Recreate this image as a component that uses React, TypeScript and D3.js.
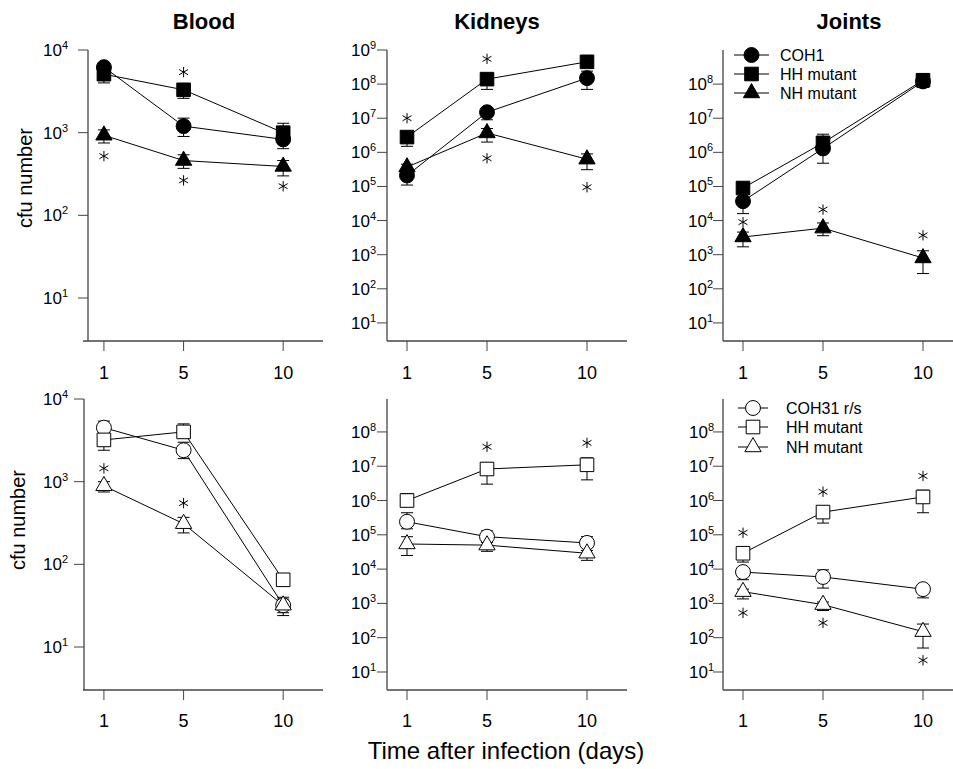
import React from "react";
import * as d3 from "d3";

// x values and legend names
const days = [1, 5, 10];
const topStrains = ["COH1", "HH mutant", "NH mutant"];
const bottomStrains = ["COH31 r/s", "HH mutant", "NH mutant"];

// each row: one strain (circle, square, triangle); mean and error bar ends per day
const bloodTop = [
  { mean: [6200, 1200, 830], lo: [5300, 900, 640], hi: [7000, 1500, 1100] },
  { mean: [5100, 3300, 1000], lo: [4000, 2600, 800], hi: [6000, 3900, 1300] },
  { mean: [930, 460, 390], lo: [750, 370, 300], hi: [1080, 540, 460] },
];
const kidneysTop = [
  { mean: [2.1e5, 1.5e7, 1.5e8], lo: [1.1e5, 9e6, 7e7], hi: [2.8e5, 2e7, 2.4e8] },
  { mean: [2.8e6, 1.4e8, 4.5e8], lo: [1.5e6, 7e7, 3.5e8], hi: [3.5e6, 1.8e8, 6.9e8] },
  { mean: [3.7e5, 3.7e6, 6.3e5], lo: [2.8e5, 2e6, 3.1e5], hi: [4.5e5, 5e6, 9e5] },
];
const jointsTop = [
  { mean: [3.7e4, 1.3e6, 1.2e8], lo: [1.6e4, 4.8e5, 8e7], hi: [5e4, 1.8e6, 1.5e8] },
  { mean: [9e4, 1.9e6, 1.3e8], lo: [7e4, 1.4e6, 1e8], hi: [1.1e5, 3.4e6, 1.6e8] },
  { mean: [3.3e3, 6e3, 800], lo: [1.7e3, 3.6e3, 280], hi: [4.6e3, 8.5e3, 1.3e3] },
];
const bloodBottom = [
  { mean: [4500, 2400, 32], lo: [3900, 1900, 24], hi: [5400, 3000, 40] },
  { mean: [3200, 4000, 65], lo: [2400, 3400, 57], hi: [3700, 5000, 72] },
  { mean: [890, 310, 32], lo: [750, 240, 26], hi: [1000, 370, 38] },
];
const kidneysBottom = [
  { mean: [2.4e5, 8.8e4, 5.8e4], lo: [1.5e5, 6.5e4, 4.5e4], hi: [4.4e5, 1.3e5, 8.8e4] },
  { mean: [1e6, 8.3e6, 1.1e7], lo: [8e5, 3e6, 4e6], hi: [1.6e6, 1.25e7, 1.75e7] },
  { mean: [5.4e4, 5e4, 2.9e4], lo: [2.5e4, 3.3e4, 1.8e4], hi: [8.8e4, 6e4, 3.5e4] },
];
const jointsBottom = [
  { mean: [8.2e3, 5.9e3, 2.6e3], lo: [4.9e3, 2.8e3, 1.45e3], hi: [1e4, 9.5e3, 3e3] },
  { mean: [2.9e4, 4.6e5, 1.27e6], lo: [1.6e4, 2.2e5, 4.4e5], hi: [3.5e4, 6.5e5, 2e6] },
  { mean: [2.2e3, 920, 150], lo: [1.35e3, 620, 50], hi: [2.6e3, 1.1e3, 250] },
];

// significance asterisks: [day, value]
const bloodTopStars = [[5, 5400], [1, 520], [5, 265], [10, 225]];
const kidneysTopStars = [[1, 1e7], [5, 5.5e8], [5, 6.7e5], [10, 9.5e4]];
const jointsTopStars = [[1, 9e3], [5, 2.1e4], [10, 3.7e3]];
const bloodBottomStars = [[1, 1450], [5, 550]];
const kidneysBottomStars = [[5, 3.7e7], [10, 4.8e7]];
const jointsBottomStars = [[1, 1.15e5], [5, 1.8e6], [10, 5.2e6], [1, 530], [5, 270], [10, 22]];

const FONT = "'Liberation Sans', Arial, Helvetica, sans-serif";
const symbolTypes = [d3.symbolCircle, d3.symbolSquare, d3.symbolTriangle];
const symbolSizes = [175, 185, 115];

type Row = { mean: number[]; lo: number[]; hi: number[] };

const Marker = ({ i, x, y, filled }: { i: number; x: number; y: number; filled: boolean }) => (
  <path
    d={d3.symbol(symbolTypes[i], symbolSizes[i])() as string}
    transform={`translate(${x},${y})`}
    fill={filled ? "#000" : "#fff"}
    stroke="#000"
    strokeWidth={1}
  />
);

const Panel = (p: {
  rows: Row[];
  stars: number[][];
  filled: boolean;
  xDomain: [number, number];
  xRange: [number, number];
  axisStart: number;
  yDomain: [number, number];
  yRange: [number, number];
  ticks: number[];
  labelEnd: number;
  tickLabelY: number;
}) => {
  const x = d3.scaleLinear().domain(p.xDomain).range(p.xRange);
  const y = d3.scaleLog().domain(p.yDomain).range(p.yRange);
  const x0 = p.xRange[0];
  const yb = p.yRange[0];
  const line = d3
    .line<number>()
    .x((_, i) => x(days[i]))
    .y((d) => y(d));
  const star = d3.symbol(d3.symbolAsterisk, 75)() as string;
  return (
    <g fontFamily={FONT}>
      {/* axes */}
      <line x1={x0} x2={x0} y1={p.yRange[1]} y2={yb} stroke="#444" strokeWidth={1.3} />
      <line x1={p.axisStart} x2={p.xRange[1]} y1={yb} y2={yb} stroke="#444" strokeWidth={1.3} />
      {p.ticks.map((k) => (
        <g key={k}>
          <line x1={x0 - 10} x2={x0} y1={y(10 ** k)} y2={y(10 ** k)} stroke="#444" strokeWidth={1} />
          <text x={p.labelEnd} y={y(10 ** k) + 6} textAnchor="end" fontSize={17}>
            10
            <tspan dy={-7} fontSize={11}>
              {k}
            </tspan>
          </text>
        </g>
      ))}
      {days.map((d) => (
        <g key={d}>
          <line x1={x(d)} x2={x(d)} y1={yb} y2={yb + 10} stroke="#444" strokeWidth={1} />
          <text x={x(d)} y={p.tickLabelY} textAnchor="middle" fontSize={18}>
            {d}
          </text>
        </g>
      ))}
      {/* error bars */}
      {p.rows.map((r, si) =>
        days.map((d, i) => (
          <g key={`e${si}-${i}`} stroke="#000" strokeWidth={1}>
            <line x1={x(d)} x2={x(d)} y1={y(r.lo[i])} y2={y(r.hi[i])} />
            <line x1={x(d) - 6} x2={x(d) + 6} y1={y(r.lo[i])} y2={y(r.lo[i])} />
            <line x1={x(d) - 6} x2={x(d) + 6} y1={y(r.hi[i])} y2={y(r.hi[i])} />
          </g>
        ))
      )}
      {/* connecting lines */}
      {p.rows.map((r, si) => (
        <path key={`l${si}`} d={line(r.mean) as string} fill="none" stroke="#000" strokeWidth={1} />
      ))}
      {p.rows.map((r, si) =>
        r.mean.map((v, i) => <Marker key={`m${si}-${i}`} i={si} x={x(days[i])} y={y(v)} filled={p.filled} />)
      )}
      {p.stars.map(([d, v], i) => (
        <path key={`s${i}`} d={star} transform={`translate(${x(d)},${y(v)})`} stroke="#000" strokeWidth={1} fill="none" />
      ))}
    </g>
  );
};

const Legend = ({ names, filled, x0, x1, tx, ys }: { names: string[]; filled: boolean; x0: number; x1: number; tx: number; ys: number[] }) => (
  <g fontFamily={FONT}>
    {names.map((n, i) => (
      <g key={n}>
        <line x1={x0} x2={x1} y1={ys[i]} y2={ys[i]} stroke="#000" strokeWidth={1} />
        <Marker i={i} x={(x0 + x1) / 2} y={ys[i]} filled={filled} />
        <text x={tx} y={ys[i] + 6} fontSize={16}>
          {n}
        </text>
      </g>
    ))}
  </g>
);

const App = () => {
  const lowB = 10 ** 0.48;
  const lowK = 10 ** 0.47;
  return (
    <div style={{ position: "absolute", left: 0, top: 0 }}>
      <svg width={953} height={769} style={{ display: "block", background: "#fff" }}>
        {/* titles */}
        <g fontFamily={FONT} fontWeight="bold" fontSize={22} textAnchor="middle">
          <text x={204} y={29}>Blood</text>
          <text x={497} y={29}>Kidneys</text>
          <text x={849} y={29}>Joints</text>
        </g>
        <g fontFamily={FONT} fontSize={20} textAnchor="middle">
          <text transform="translate(32,178) rotate(-90)">cfu number</text>
          <text transform="translate(25,520) rotate(-90)">cfu number</text>
        </g>
        <text x={506} y={759} fontFamily={FONT} fontSize={24} textAnchor="middle">
          Time after infection (days)
        </text>

        <Panel rows={bloodTop} stars={bloodTopStars} filled xDomain={[0.2, 12]} xRange={[88, 323]} axisStart={83}
          yDomain={[lowB, 1e4]} yRange={[341, 50]} ticks={[1, 2, 3, 4]} labelEnd={68} tickLabelY={379} />
        <Panel rows={kidneysTop} stars={kidneysTopStars} filled xDomain={[0, 12]} xRange={[387, 627]} axisStart={387}
          yDomain={[lowK, 1e9]} yRange={[341, 50]} ticks={[1, 2, 3, 4, 5, 6, 7, 8, 9]} labelEnd={376} tickLabelY={379} />
        <Panel rows={jointsTop} stars={jointsTopStars} filled xDomain={[0, 12]} xRange={[723, 963]} axisStart={723}
          yDomain={[lowK, 1e9]} yRange={[341, 50]} ticks={[1, 2, 3, 4, 5, 6, 7, 8]} labelEnd={713} tickLabelY={379} />
        <Panel rows={bloodBottom} stars={bloodBottomStars} filled={false} xDomain={[0, 12]} xRange={[84, 323]} axisStart={83}
          yDomain={[lowB, 1e4]} yRange={[690, 399]} ticks={[1, 2, 3, 4]} labelEnd={68} tickLabelY={727} />
        <Panel rows={kidneysBottom} stars={kidneysBottomStars} filled={false} xDomain={[0, 12]} xRange={[387, 627]} axisStart={387}
          yDomain={[10 ** 0.475, 10 ** 8.96]} yRange={[690, 399]} ticks={[1, 2, 3, 4, 5, 6, 7, 8]} labelEnd={376} tickLabelY={727} />
        <Panel rows={jointsBottom} stars={jointsBottomStars} filled={false} xDomain={[0, 12]} xRange={[723, 963]} axisStart={723}
          yDomain={[10 ** 0.475, 10 ** 8.96]} yRange={[690, 399]} ticks={[1, 2, 3, 4, 5, 6, 7, 8]} labelEnd={714} tickLabelY={727} />

        <Legend names={topStrains} filled x0={734} x1={769} tx={780} ys={[55, 74, 93]} />
        <Legend names={bottomStrains} filled={false} x0={738} x1={768} tx={786} ys={[408, 427, 447]} />
      </svg>
    </div>
  );
};

export default App;
